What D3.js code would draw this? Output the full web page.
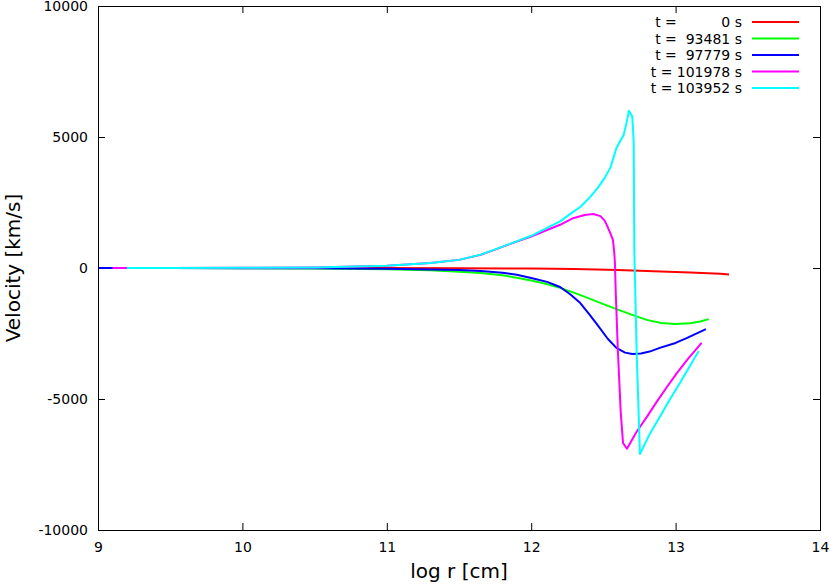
<!DOCTYPE html>
<html>
<head>
<meta charset="utf-8">
<script src="https://cdn.jsdelivr.net/npm/d3@7"></script>
<style>
  body { margin: 0; background: #fff; }
  svg text { font-family: "DejaVu Sans", sans-serif; fill: #000; }
</style>
</head>
<body>
<svg id="chart" width="831" height="584"></svg>
<script>
// log r [cm] and velocity [km/s]
var times = [0, 93481, 97779, 101978, 103952];
var colors = ["#ff0000", "#00ff00", "#0000ff", "#ff00ff", "#00ffff"];

var r0 = [9.0, 9.5, 10, 10.5, 11, 11.5, 12, 12.3, 12.6, 12.9, 13.1, 13.31, 13.37];
var v0 = [0, 0, 0, 0, 0, -5, -20, -40, -75, -130, -170, -220, -250];

var r1 = [9.0, 9.5, 10, 10.5, 11, 11.3, 11.5, 11.65, 11.8, 11.9, 12.0, 12.1, 12.2, 12.3, 12.4, 12.5, 12.6, 12.7, 12.8, 12.9, 13.0, 13.1, 13.17, 13.23];
var v1 = [0, 0, -5, -15, -50, -90, -140, -190, -280, -370, -480, -600, -760, -950, -1160, -1380, -1590, -1790, -1980, -2100, -2140, -2110, -2040, -1950];

var r2 = [9.0, 9.5, 10, 10.5, 11, 11.3, 11.5, 11.65, 11.8, 11.9, 12.0, 12.11, 12.2, 12.27, 12.34, 12.4, 12.46, 12.53, 12.59, 12.65, 12.7, 12.76, 12.82, 12.89, 13.0, 13.08, 13.21];
var v2 = [0, 0, -5, -10, -30, -55, -80, -110, -180, -260, -380, -530, -725, -1000, -1340, -1750, -2180, -2700, -3050, -3230, -3280, -3260, -3190, -3050, -2860, -2670, -2330];

var r3 = [9.1, 9.5, 10, 10.5, 11, 11.3, 11.5, 11.65, 11.75, 11.87, 12.0, 12.11, 12.2, 12.29, 12.37, 12.43, 12.48, 12.51, 12.53, 12.55, 12.566, 12.575, 12.58, 12.585, 12.6, 12.62, 12.636, 12.663, 12.73, 12.8, 12.87, 12.94, 13.01, 13.08, 13.18];
var v3 = [0, 0, 5, 20, 90, 190, 310, 500, 700, 950, 1200, 1450, 1650, 1900, 2020, 2060, 1980, 1800, 1560, 1300, 1070, 600, 190, -840, -3130, -5500, -6680, -6900, -6250, -5690, -5100, -4540, -4000, -3510, -2860];

var r4 = [9.2, 9.5, 10, 10.5, 11, 11.3, 11.5, 11.65, 11.75, 11.87, 12.0, 12.11, 12.2, 12.29, 12.34, 12.4, 12.46, 12.51, 12.55, 12.59, 12.64, 12.66, 12.677, 12.7, 12.71, 12.714, 12.73, 12.753, 12.82, 12.89, 12.96, 13.03, 13.1, 13.16];
var v4 = [0, 0, 5, 20, 90, 190, 310, 510, 710, 960, 1230, 1530, 1780, 2140, 2330, 2660, 3050, 3450, 3850, 4580, 5080, 5530, 6000, 5780, 4770, 690, -3130, -7100, -6350, -5690, -5020, -4390, -3730, -3170];

var xTicks = [9, 10, 11, 12, 13, 14];
var yTicks = [-10000, -5000, 0, 5000, 10000];

(function() {

    var svg = d3.select("#chart"),
        left = 98, right = 820, top = 6, bottom = 530;

    var x = d3.scaleLinear().domain([9, 14]).range([left, right]);
    var y = d3.scaleLinear().domain([-10000, 10000]).range([bottom, top]);

    var series = [[r0, v0], [r1, v1], [r2, v2], [r3, v3], [r4, v4]].map(function(s, i) {
        return {
            t: times[i],
            color: colors[i],
            pts: s[0].map(function(r, j) { return [r, s[1][j]]; })
        };
    });

    // axes with gnuplot style inward ticks, mirrored on top and right
    var gx = svg.append("g").attr("transform", "translate(0," + bottom + ")")
        .call(d3.axisBottom(x).tickValues(xTicks).tickSize(-7).tickPadding(12).tickFormat(String));
    var gy = svg.append("g").attr("transform", "translate(" + left + ",0)")
        .call(d3.axisLeft(y).tickValues(yTicks).tickSize(-7).tickPadding(10).tickFormat(String));
    var gt = svg.append("g").attr("transform", "translate(0," + top + ")")
        .call(d3.axisTop(x).tickValues(xTicks).tickSize(-7).tickFormat(""));
    var gr = svg.append("g").attr("transform", "translate(" + right + ",0)")
        .call(d3.axisRight(y).tickValues(yTicks).tickSize(-7).tickFormat(""));

    [gx, gy, gt, gr].forEach(function(g) {
        g.select(".domain").remove();
        g.selectAll(".tick line").attr("stroke", "#000").attr("stroke-width", 1);
        g.selectAll(".tick text").style("font-size", "14px").style("font-family", "DejaVu Sans, sans-serif");
    });

    var line = d3.line()
        .x(function(d) { return x(d[0]); })
        .y(function(d) { return y(d[1]); });

    svg.append("g").selectAll("path")
        .data(series)
        .enter().append("path")
        .attr("d", function(d) { return line(d.pts); })
        .attr("fill", "none")
        .attr("stroke", function(d) { return d.color; })
        .attr("stroke-width", 2)
        .attr("stroke-linejoin", "round");

    svg.append("rect")
        .attr("x", left + 0.5).attr("y", top + 0.5)
        .attr("width", right - left).attr("height", bottom - top)
        .attr("fill", "none").attr("stroke", "#000").attr("stroke-width", 1);

    // legend
    function label(t) {
        var s = String(t), pad = 6 - s.length, p = "";
        if (pad > 0) p = " " + "\u2007".repeat(pad - 1);
        return "t = " + p + s + " s";
    }
    var leg = svg.append("g").selectAll("g")
        .data(series)
        .enter().append("g")
        .attr("transform", function(d, i) { return "translate(0," + (22 + i * 16.5) + ")"; });
    leg.append("text")
        .attr("x", 742).attr("y", 5)
        .attr("text-anchor", "end")
        .attr("xml:space", "preserve")
        .style("white-space", "pre")
        .style("font-size", "14px")
        .text(function(d) { return label(d.t); });
    leg.append("line")
        .attr("x1", 752).attr("x2", 799)
        .attr("stroke", function(d) { return d.color; })
        .attr("stroke-width", 2);

    svg.append("text")
        .attr("x", (left + right) / 2).attr("y", 578)
        .attr("text-anchor", "middle")
        .style("font-size", "20px")
        .text("log r [cm]");

    svg.append("text")
        .attr("transform", "translate(20," + (top + bottom) / 2 + ") rotate(-90)")
        .attr("text-anchor", "middle")
        .style("font-size", "20px")
        .text("Velocity [km/s]");

})();
</script>
</body>
</html>
